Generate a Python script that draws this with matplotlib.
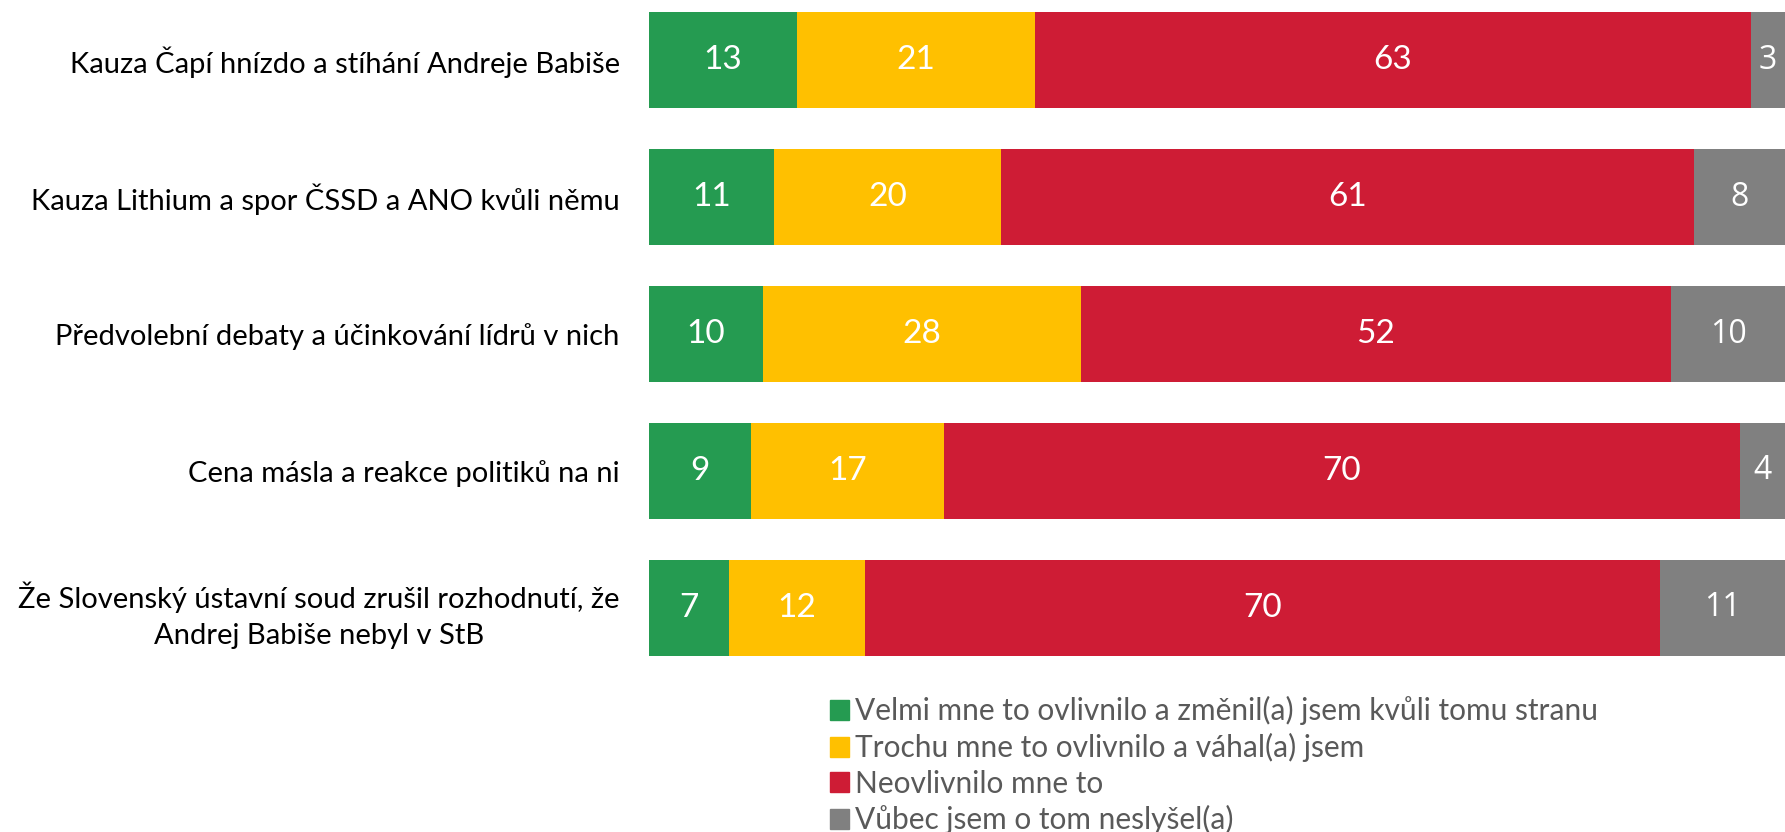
import numpy as np
import matplotlib.pyplot as plt
from matplotlib.patches import Patch

topics = [
    "Kauza Čapí hnízdo a stíhání Andreje Babiše",
    "Kauza Lithium a spor ČSSD a ANO kvůli němu",
    "Předvolební debaty a účinkování lídrů v nich",
    "Cena másla a reakce politiků na ni",
    "Že Slovenský ústavní soud zrušil rozhodnutí, že\nAndrej Babiše nebyl v StB",
]
series_names = [
    "Velmi mne to ovlivnilo a změnil(a) jsem kvůli tomu stranu",
    "Trochu mne to ovlivnilo a váhal(a) jsem",
    "Neovlivnilo mne to",
    "Vůbec jsem o tom neslyšel(a)",
]
velmi = [13, 11, 10, 9, 7]
trochu = [21, 20, 28, 17, 12]
neovlivnilo = [63, 61, 52, 70, 70]
neslysel = [3, 8, 10, 4, 11]
colors = ["#259B51", "#FFC000", "#CE1C35", "#808080"]

plt.rcParams['font.family'] = ['Lato', 'DejaVu Sans']

fig = plt.figure(figsize=(17.85, 8.32), dpi=100)
ax = fig.add_axes([0.3636, 0.1707, 0.6364, 0.8293])

data = [velmi, trochu, neovlivnilo, neslysel]
y = np.arange(len(topics))
left = np.zeros(len(topics))
for i, (vals, col, name) in enumerate(zip(data, colors, series_names)):
    vals = np.array(vals)
    ax.barh(y, vals, left=left, height=0.7, color=col, label=name)
    # the grey segment labels use a different face in the original
    fam = ['Open Sans', 'DejaVu Sans'] if i == 3 else ['Lato', 'DejaVu Sans']
    fs = 23 if i == 3 else 24
    for yi, l, v in zip(y, left, vals):
        ax.text(l + v / 2, yi, str(v), ha='center', va='center',
                color='white', fontsize=fs, family=fam, clip_on=False)
    left += vals

ax.set_xlim(0, 100)
ax.set_ylim(4.6, -0.44)
ax.set_yticks(y)
ax.set_yticklabels(topics, fontsize=21, multialignment='center', linespacing=1.45)
ax.tick_params(axis='y', length=0, pad=21)
ax.set_xticks([])
for s in ax.spines.values():
    s.set_visible(False)

handles = [Patch(color=c) for c in colors]
fig.legend(handles, series_names, loc='upper left', bbox_to_anchor=(0.465, 0.163),
           frameon=False, fontsize=21.5, labelcolor='#595959',
           handlelength=0.65, handleheight=0.65, handletextpad=0.2,
           labelspacing=0.25, borderpad=0, borderaxespad=0)

fig.savefig("out.png", dpi=100)
